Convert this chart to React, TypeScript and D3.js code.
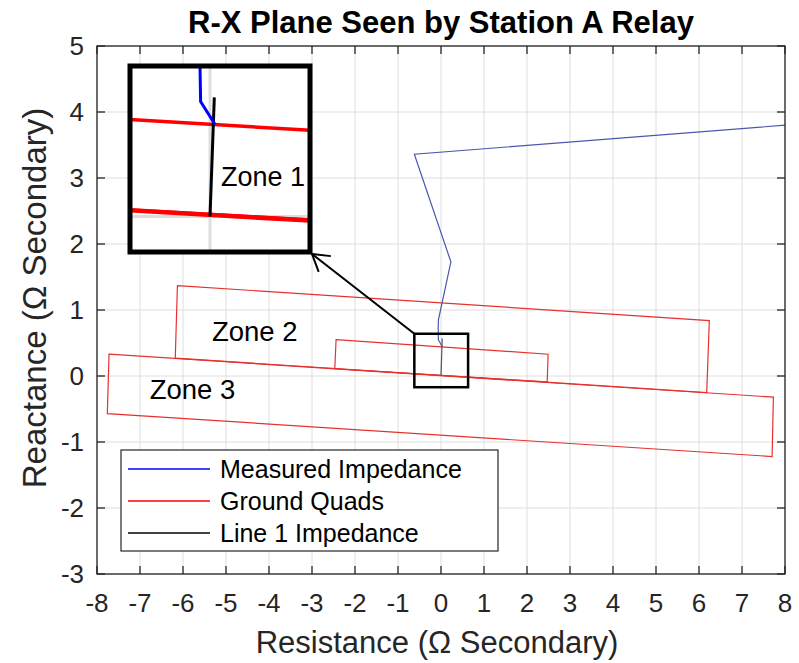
import { useMemo } from 'react';
import * as d3 from 'd3';

// axis ticks
const xTickValues = [-8, -7, -6, -5, -4, -3, -2, -1, 0, 1, 2, 3, 4, 5, 6, 7, 8];
const yTickValues = [-3, -2, -1, 0, 1, 2, 3, 4, 5];

// measured impedance trajectory (R, X)
const measuredR = [8, -0.62, 0.23, -0.06, -0.065, -0.061, 0.033];
const measuredX = [3.8, 3.36, 1.73, 0.85, 0.72, 0.55, 0.44];

// ground quadrilaterals, corners TL, TR, BR, BL
const zone1R = [-2.44, 2.49, 2.47, -2.47];
const zone1X = [0.55, 0.33, -0.09, 0.11];
const zone2R = [-6.13, 6.24, 6.18, -6.18];
const zone2X = [1.37, 0.84, -0.25, 0.27];
const zone3R = [-7.72, 7.73, 7.7, -7.76];
const zone3X = [0.33, -0.32, -1.22, -0.57];

// line 1 impedance
const line1R = [0, 0.028];
const line1X = [0, 0.57];

// zoomed window marked on the main plot, and limits of the inset
const zoomBoxR = [-0.62, 0.63];
const zoomBoxX = [-0.17, 0.64];
const insetR = [-0.52, 0.65];
const insetX = [-0.17, 0.72];

const zoneLabels = ['Zone 1', 'Zone 2', 'Zone 3'];
const zoneLabelR = [0.345, -4.33, -5.78];
const zoneLabelX = [0.19, 0.68, -0.21];

const legendNames = ['Measured Impedance', 'Ground Quads', 'Line 1 Impedance'];
const legendColors = ['#0000ff', '#ff0000', '#000000'];

const W = 799;
const H = 663;
const FONT = '"Liberation Sans", Arial, sans-serif';
const AX = '#262626';

const zip = (a: number[], b: number[]) => a.map((v, i) => [v, b[i]] as [number, number]);

export default function App() {
  const plot = { left: 97, right: 785, top: 46, bottom: 574 };
  const inset = { left: 130, right: 310, top: 66, bottom: 252 };

  const x = d3.scaleLinear().domain([-8, 8]).range([plot.left, plot.right]);
  const y = d3.scaleLinear().domain([-3, 5]).range([plot.bottom, plot.top]);
  const xi = d3.scaleLinear().domain(insetR).range([inset.left, inset.right]);
  const yi = d3.scaleLinear().domain(insetX).range([inset.bottom, inset.top]);

  const zones = [zip(zone1R, zone1X), zip(zone2R, zone2X), zip(zone3R, zone3X)];
  const measured = zip(measuredR, measuredX);
  const line1 = zip(line1R, line1X);

  const paths = useMemo(() => {
    const main = d3.line<[number, number]>().x(d => x(d[0])).y(d => y(d[1]));
    const ins = d3.line<[number, number]>().x(d => xi(d[0])).y(d => yi(d[1]));
    return { main, ins };
  }, []);

  // arrow from the zoom box to the inset corner
  const tail: [number, number] = [x(zoomBoxR[0]), y(zoomBoxX[1])];
  const tip: [number, number] = [inset.right + 2, inset.bottom + 2];
  const ang = Math.atan2(tail[1] - tip[1], tail[0] - tip[0]);
  const barb = 19;
  const spread = 0.55;
  const arrowHead = `M${tip[0] + barb * Math.cos(ang + spread)},${tip[1] + barb * Math.sin(ang + spread)}L${tip[0]},${tip[1]}L${tip[0] + barb * Math.cos(ang - spread)},${tip[1] + barb * Math.sin(ang - spread)}`;

  const legend = { left: 121, top: 450, width: 377, height: 101 };

  return (
    <svg width={W} height={H} style={{ position: 'absolute', left: 0, top: 0, display: 'block', background: '#fff' }} fontFamily={FONT}>
      <defs>
        <clipPath id="mainClip">
          <rect x={plot.left} y={plot.top} width={plot.right - plot.left} height={plot.bottom - plot.top} />
        </clipPath>
        <clipPath id="insetClip">
          <rect x={inset.left} y={inset.top} width={inset.right - inset.left} height={inset.bottom - inset.top} />
        </clipPath>
      </defs>

      {/* grid */}
      <g stroke="#dedede" strokeWidth={1}>
        {xTickValues.map(t => (
          <line key={'gx' + t} x1={x(t)} x2={x(t)} y1={plot.top} y2={plot.bottom} />
        ))}
        {yTickValues.map(t => (
          <line key={'gy' + t} x1={plot.left} x2={plot.right} y1={y(t)} y2={y(t)} />
        ))}
      </g>

      <g clipPath="url(#mainClip)" fill="none">
        {zones.map((z, i) => (
          <path key={'z' + i} d={paths.main(z)! + 'Z'} stroke="#e5322f" strokeWidth={1.2} />
        ))}
        <path d={paths.main(measured)!} stroke="#4858ad" strokeWidth={1.2} />
        <path d={paths.main(line1)!} stroke="#555" strokeWidth={1.2} />
      </g>

      {/* zone labels */}
      {[1, 2].map(i => (
        <text key={'zl' + i} x={x(zoneLabelR[i])} y={y(zoneLabelX[i])} textAnchor="middle" dominantBaseline="central" fontSize={27.5} fill="#000">
          {zoneLabels[i]}
        </text>
      ))}

      {/* legend */}
      <g>
        <rect x={legend.left} y={legend.top} width={legend.width} height={legend.height} fill="#fff" stroke={AX} strokeWidth={1.2} />
        {legendNames.map((n, i) => {
          const cy = legend.top + 19 + i * 32;
          return (
            <g key={n}>
              <line x1={128} x2={210} y1={cy} y2={cy} stroke={legendColors[i]} strokeWidth={1.6} />
              <text x={220} y={cy} dominantBaseline="central" fontSize={25} fill="#000">{n}</text>
            </g>
          );
        })}
      </g>

      {/* zoom window and arrow */}
      <rect
        x={x(zoomBoxR[0])}
        y={y(zoomBoxX[1])}
        width={x(zoomBoxR[1]) - x(zoomBoxR[0])}
        height={y(zoomBoxX[0]) - y(zoomBoxX[1])}
        fill="none"
        stroke="#000"
        strokeWidth={2.5}
      />
      <line x1={tail[0]} y1={tail[1]} x2={tip[0]} y2={tip[1]} stroke="#000" strokeWidth={2} />
      <path d={arrowHead} fill="none" stroke="#000" strokeWidth={2} />

      {/* inset */}
      <rect x={inset.left} y={inset.top} width={inset.right - inset.left} height={inset.bottom - inset.top} fill="#fff" />
      <g clipPath="url(#insetClip)" fill="none">
        <line x1={xi(0)} x2={xi(0)} y1={inset.top} y2={inset.bottom} stroke="#dedede" strokeWidth={3} />
        <line x1={inset.left} x2={inset.right} y1={yi(0)} y2={yi(0)} stroke="#dedede" strokeWidth={3} />
        {zones.map((z, i) => (
          <path key={'iz' + i} d={paths.ins(z)! + 'Z'} stroke="#ff0000" strokeWidth={3.5} />
        ))}
        <path d={paths.ins(line1)!} stroke="#000" strokeWidth={3} />
        <path d={paths.ins(measured)!} stroke="#0000ff" strokeWidth={3} />
      </g>
      <text x={xi(zoneLabelR[0])} y={yi(zoneLabelX[0])} textAnchor="middle" dominantBaseline="central" fontSize={27} fill="#000">
        {zoneLabels[0]}
      </text>
      <rect x={inset.left} y={inset.top} width={inset.right - inset.left} height={inset.bottom - inset.top} fill="none" stroke="#000" strokeWidth={5} />

      {/* axes box and ticks */}
      <rect x={plot.left} y={plot.top} width={plot.right - plot.left} height={plot.bottom - plot.top} fill="none" stroke={AX} strokeWidth={1.3} />
      <g stroke={AX} strokeWidth={1.3}>
        {xTickValues.map(t => (
          <g key={'tx' + t}>
            <line x1={x(t)} x2={x(t)} y1={plot.bottom} y2={plot.bottom - 8} />
            <line x1={x(t)} x2={x(t)} y1={plot.top} y2={plot.top + 8} />
          </g>
        ))}
        {yTickValues.map(t => (
          <g key={'ty' + t}>
            <line x1={plot.left} x2={plot.left + 8} y1={y(t)} y2={y(t)} />
            <line x1={plot.right} x2={plot.right - 8} y1={y(t)} y2={y(t)} />
          </g>
        ))}
      </g>
      <g fill={AX} fontSize={26}>
        {xTickValues.map(t => (
          <text key={'lx' + t} x={x(t)} y={plot.bottom + 29} textAnchor="middle" dominantBaseline="central">
            {t}
          </text>
        ))}
        {yTickValues.map(t => (
          <text key={'ly' + t} x={plot.left - 13} y={y(t)} textAnchor="end" dominantBaseline="central">
            {t}
          </text>
        ))}
      </g>

      {/* titles */}
      <text x={441} y={22} textAnchor="middle" dominantBaseline="central" fontSize={31} fontWeight="bold" fill="#000">
        R-X Plane Seen by Station A Relay
      </text>
      <text x={437} y={642} textAnchor="middle" dominantBaseline="central" fontSize={31} fill={AX}>
        Resistance (Ω Secondary)
      </text>
      <text transform={`translate(34,${298}) rotate(-90)`} textAnchor="middle" dominantBaseline="central" fontSize={33} fill={AX}>
        Reactance (Ω Secondary)
      </text>
    </svg>
  );
}
